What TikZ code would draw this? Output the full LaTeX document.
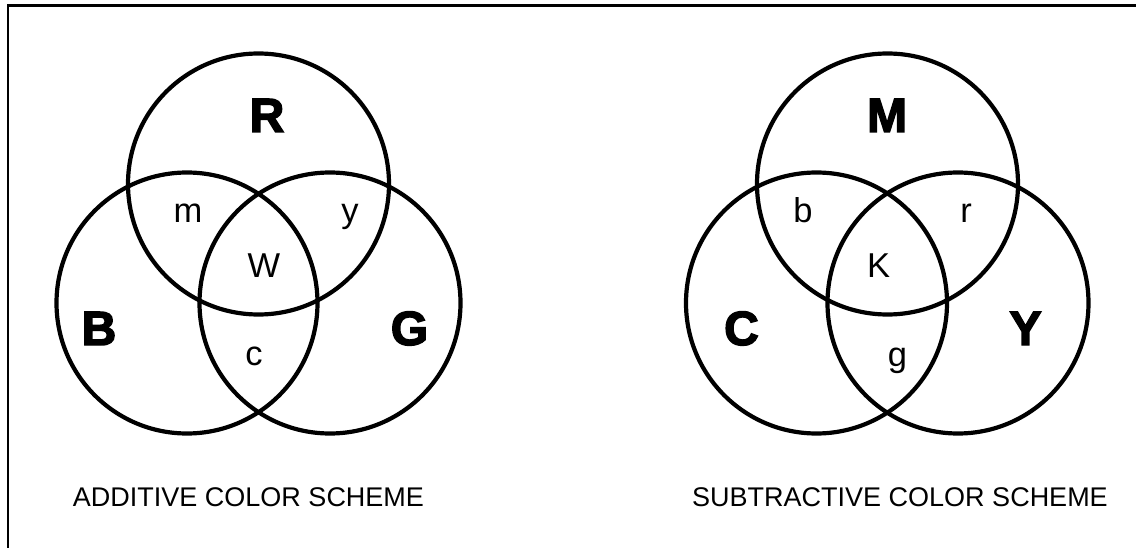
\documentclass[tikz,border=0pt]{standalone}
\usepackage{fontspec}
\setmainfont{Liberation Sans}
\newfontfamily\heavyfont[FakeBold=3]{Liberation Sans Bold}
\begin{document}
\begin{tikzpicture}[x=1pt,y=-1pt,
  ring/.style={circle,draw,line width=4.2pt,minimum size=261pt,inner sep=0pt},
  big/.style={anchor=base,inner sep=0pt,font=\heavyfont\fontsize{48}{48}\selectfont},
  small/.style={anchor=base,inner sep=0pt,font=\fontsize{34.5}{35}\selectfont},
  caption/.style={anchor=base,inner sep=0pt,font=\fontsize{27}{28}\selectfont},
  frame/.style={line width=2.6pt}]
\useasboundingbox (0,0) rectangle (1136,548);
% frame (top and left edges only)
\coordinate (f1) at (8,548);
\coordinate (f2) at (8,5.3);
\coordinate (f3) at (1136,5.3);
\draw[frame] (f1) -- (f2) -- (f3);
% additive
\node[ring] (cR) at (258.5,184) {};
\node[ring] (cB) at (187,303) {};
\node[ring] (cG) at (330,303) {};
\node[big] (R) at (267,132) {R};
\node[big] (B) at (99,345) {B};
\node[big] (G) at (409.5,345) {G};
\node[small] (m) at (188,223) {m};
\node[small] (y) at (350,223) {y};
\node[small] (W) at (264,278) {W};
\node[small] (c) at (254,365) {c};
\node[caption] (add) at (248.5,506) {ADDITIVE COLOR SCHEME};
% subtractive
\node[ring] (cM) at (887.5,184) {};
\node[ring] (cC) at (816.5,303) {};
\node[ring] (cY) at (958,303) {};
\node[big] (M) at (887,132) {M};
\node[big] (C) at (741.5,345) {C};
\node[big] (Y) at (1025.5,345) {Y};
\node[small] (b) at (803,223) {b};
\node[small] (r) at (966,223) {r};
\node[small] (K) at (878.5,278) {K};
\node[small] (g) at (897.5,366) {g};
\node[caption] (sub) at (900,506) {SUBTRACTIVE COLOR SCHEME};
\end{tikzpicture}
\end{document}
